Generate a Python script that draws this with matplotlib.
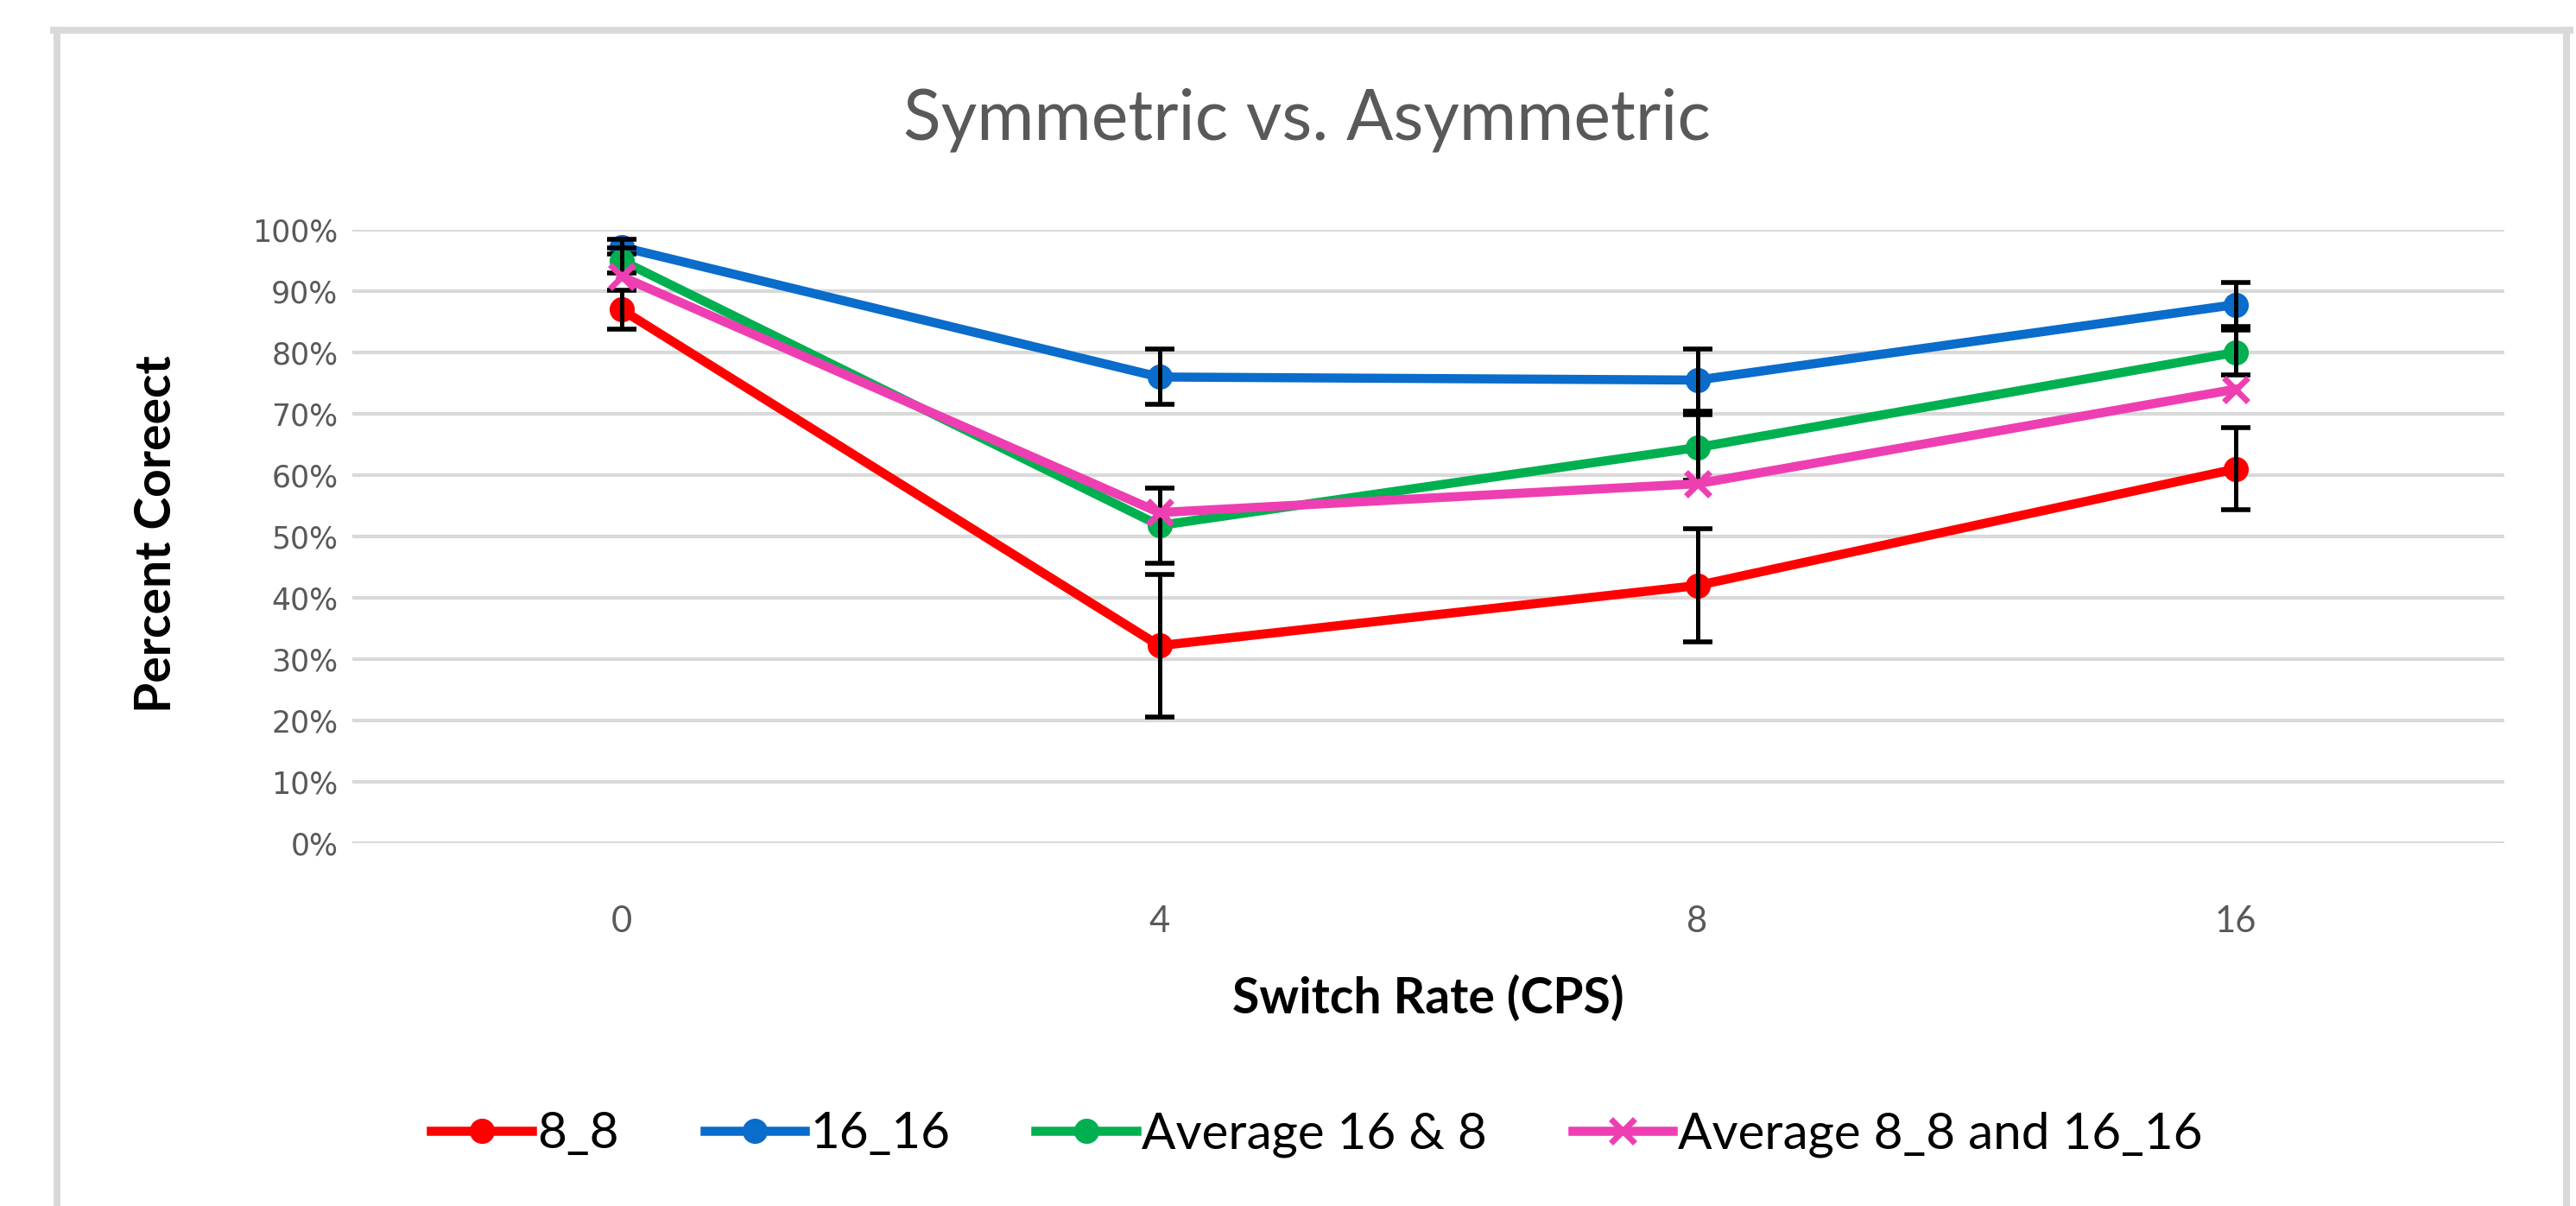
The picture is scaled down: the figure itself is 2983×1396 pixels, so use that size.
import matplotlib
matplotlib.use("Agg")
import matplotlib.pyplot as plt
from matplotlib.lines import Line2D
from matplotlib.ticker import PercentFormatter, MultipleLocator

# ---- data ----
categories = ["0", "4", "8", "16"]
series_names = ["8_8", "16_16", "Average 16 & 8", "Average 8_8 and 16_16"]
s88 = [0.870, 0.322, 0.420, 0.610]
s88_err = [0.032, 0.116, 0.092, 0.067]
s1616 = [0.972, 0.760, 0.755, 0.878]
s1616_err = [0.012, 0.045, 0.051, 0.036]
avg168 = [0.950, 0.518, 0.645, 0.800]
avg168_err = [0.021, 0.061, 0.054, 0.036]
avg_sym = [0.924, 0.539, 0.586, 0.740]

colors = ["#FF0000", "#0A6CCB", "#00B050", "#EE3FB2"]
markers = ["o", "o", "o", "x"]

W, H = 2983, 1396
DPI = 200
fig = plt.figure(figsize=(W / DPI, H / DPI), dpi=DPI)
fig.patch.set_facecolor("white")

# outer chart border (no bottom edge visible)
bc = "#d9d9d9"
fig.add_artist(Line2D([66 / W, 66 / W], [0, 1 - 35 / H], transform=fig.transFigure, color=bc, lw=2.9))
fig.add_artist(Line2D([2972 / W, 2972 / W], [0, 1 - 35 / H], transform=fig.transFigure, color=bc, lw=2.9))
fig.add_artist(Line2D([62 / W, 2976 / W], [1 - 35 / H, 1 - 35 / H], transform=fig.transFigure, color=bc, lw=2.9))

ax = fig.add_axes([408 / W, 1 - 976 / H, (2900 - 408) / W, (976 - 266) / H])
x = list(range(len(categories)))

ax.set_ylim(0, 1)
ax.set_xlim(-0.5, len(categories) - 0.5)
ax.yaxis.set_major_locator(MultipleLocator(0.1))
ax.yaxis.set_major_formatter(PercentFormatter(1.0, decimals=0))
ax.grid(axis="y", color="#d9d9d9", lw=1.5, zorder=0)
ax.set_axisbelow(True)
for s in ax.spines.values():
    s.set_visible(False)
ax.tick_params(axis="both", length=0)
ax.tick_params(axis="y", pad=6, labelsize=12.5, labelcolor="#595959")
ax.tick_params(axis="x", pad=26, labelsize=15, labelcolor="#595959")
ax.set_xticks(x)
ax.set_xticklabels(categories, fontfamily="Lato")
for lab in ax.get_yticklabels():
    lab.set_fontfamily("DejaVu Sans")

all_vals = [s88, s1616, avg168, avg_sym]
all_errs = [s88_err, s1616_err, avg168_err, None]
handles = []
for i, (vals, errs) in enumerate(zip(all_vals, all_errs)):
    z = 3 + 2 * i
    ln, = ax.plot(x, vals, color=colors[i], lw=3.8, marker=markers[i],
                  markersize=9.5 if markers[i] == "o" else 10,
                  markeredgewidth=2.5 if markers[i] == "x" else 1,
                  zorder=z, clip_on=False, label=series_names[i])
    handles.append(ln)
    if errs is not None:
        ax.errorbar(x, vals, yerr=errs, fmt="none", ecolor="black", elinewidth=1.8,
                    capsize=6, capthick=2.0, zorder=z + 1, clip_on=False)

fig.text(1513 / W, 1 - 139 / H, "Symmetric vs. Asymmetric", ha="center", va="center",
         fontsize=29, color="#595959", fontfamily="Lato")
fig.text(181 / W, 1 - 618 / H, "Percent Coreect", ha="center", va="center", rotation=90,
         fontsize=20.5, fontweight="bold", color="black", fontfamily="Lato")
fig.text(1654 / W, 1 - 1156 / H, "Switch Rate (CPS)", ha="center", va="center",
         fontsize=20.5, fontweight="bold", color="black", fontfamily="Lato")

leg = fig.legend(handles=handles, labels=series_names, loc="center", ncol=4,
                 bbox_to_anchor=(1525 / W, 1 - 1313 / H), frameon=False,
                 prop={"family": "Lato", "size": 21}, handlelength=2.0,
                 handletextpad=0.1, columnspacing=1.7)

fig.savefig("out.png", dpi=DPI, facecolor="white")
